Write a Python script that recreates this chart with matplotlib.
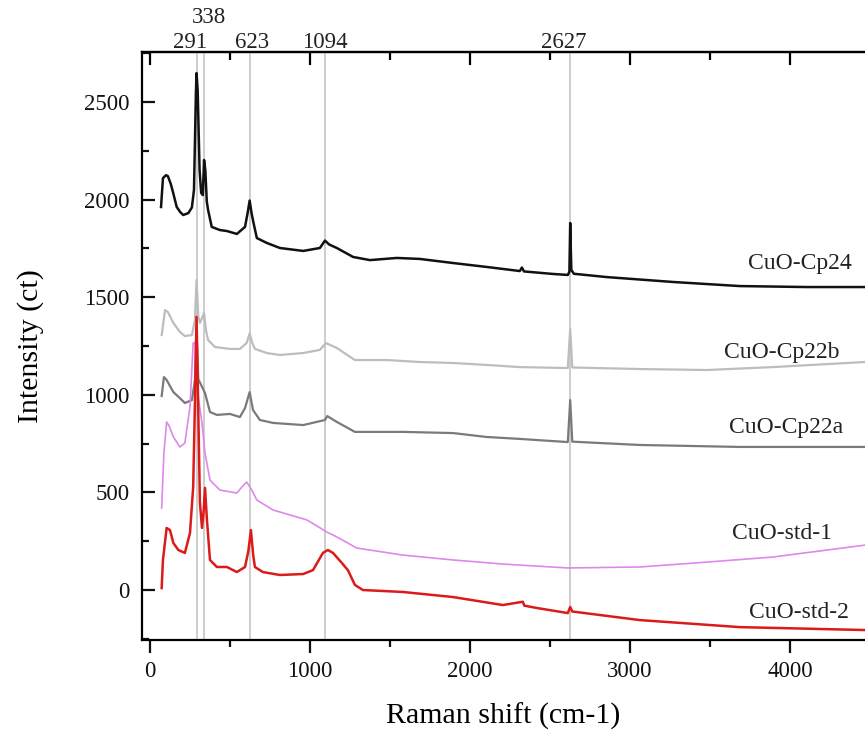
import matplotlib
matplotlib.use("Agg")
import matplotlib.pyplot as plt
from matplotlib.ticker import MultipleLocator

plt.rcParams['font.family'] = ['Liberation Serif', 'DejaVu Serif']

# ---------------- data ----------------
cp24_x = [69, 81, 100, 112, 130, 145, 167, 190, 208, 240, 262, 275, 287, 291, 298, 310, 320, 330, 338,
          346, 355, 363, 386, 437, 481, 543, 594, 610, 623, 635, 650, 668, 730, 812, 958, 1062, 1094,
          1120, 1168, 1270, 1375, 1543, 1687, 1895, 2104, 2312, 2325, 2338, 2520, 2612, 2622, 2627,
          2634, 2650, 2856, 3269, 3687, 4106, 4470]
cp24_y = [1962, 2110, 2125, 2120, 2080, 2034, 1962, 1935, 1921, 1931, 1960, 2050, 2546, 2648, 2560, 2150,
          2034, 2023, 2203, 2150, 1990, 1947, 1860, 1844, 1839, 1824, 1860, 1930, 1995, 1930, 1870, 1803,
          1778, 1752, 1737, 1752, 1790, 1770, 1752, 1706, 1690, 1701, 1696, 1675, 1655, 1634, 1652, 1632,
          1619, 1614, 1630, 1880, 1640, 1620, 1603, 1578, 1557, 1552, 1552]

cp22b_x = [73, 94, 112, 146, 187, 218, 262, 281, 291, 302, 312, 333, 338, 350, 363, 406, 500, 562, 604,
           623, 640, 656, 730, 812, 958, 1062, 1100, 1168, 1281, 1481, 1687, 1895, 2104, 2312, 2612,
           2627, 2640, 3062, 3481, 3894, 4470]
cp22b_y = [1306, 1434, 1424, 1368, 1322, 1301, 1306, 1383, 1588, 1400, 1368, 1409, 1419, 1330, 1281,
           1245, 1235, 1235, 1265, 1315, 1265, 1235, 1214, 1204, 1214, 1230, 1265, 1240, 1178, 1178,
           1168, 1163, 1153, 1142, 1137, 1337, 1140, 1132, 1127, 1142, 1168]

cp22a_x = [73, 87, 104, 146, 187, 218, 262, 281, 291, 302, 344, 375, 418, 500, 562, 594, 623, 644, 687,
           769, 958, 1094, 1108, 1168, 1281, 1581, 1895, 2104, 2312, 2612, 2627, 2640, 3062, 3687, 4470]
cp22a_y = [994, 1091, 1076, 1014, 983, 958, 973, 1076, 1330, 1080, 1009, 912, 897, 902, 886, 932, 1014,
           922, 871, 856, 845, 871, 891, 861, 810, 810, 804, 784, 774, 758, 973, 760, 743, 733, 733]

std1_x = [73, 87, 104, 120, 146, 187, 218, 250, 270, 281, 300, 325, 344, 375, 437, 543, 575, 604, 637,
          668, 769, 981, 1106, 1168, 1293, 1581, 1895, 2206, 2612, 3062, 3481, 3894, 4470]
std1_y = [420, 702, 861, 840, 784, 733, 753, 938, 1265, 1270, 1000, 855, 702, 563, 512, 497, 528, 553,
          512, 461, 410, 359, 297, 272, 215, 179, 154, 133, 113, 118, 143, 169, 230]

std2_x = [73, 81, 104, 125, 146, 177, 218, 250, 270, 282, 291, 300, 312, 325, 335, 344, 356, 375, 418,
          481, 543, 594, 615, 631, 645, 656, 706, 812, 958, 1019, 1081, 1112, 1144, 1200, 1237, 1281,
          1331, 1581, 1895, 2206, 2331, 2340, 2418, 2612, 2627, 2640, 3062, 3687, 4470]
std2_y = [10, 154, 318, 307, 241, 205, 190, 292, 528, 1000, 1399, 1000, 450, 318, 400, 523, 359, 154,
          118, 118, 92, 118, 200, 307, 180, 118, 92, 77, 82, 102, 190, 205, 190, 138, 102, 26, 0, -10,
          -36, -77, -60, -80, -92, -118, -87, -110, -154, -190, -205]

series_names = ['CuO-Cp24', 'CuO-Cp22b', 'CuO-Cp22a', 'CuO-std-1', 'CuO-std-2']
peak_positions = [291, 338, 623, 1094, 2627]
peak_labels = ['291', '338', '623', '1094', '2627']

# ---------------- figure ----------------
fig = plt.figure(figsize=(8.65, 7.33), dpi=100)
ax = fig.add_axes([142 / 865, 1 - 640 / 733, 1 - 142 / 865, (640 - 52) / 733])

for p in peak_positions:
    ax.axvline(p, color='#c0c0c0', lw=1.1, zorder=1)

series = [
    (cp24_x, cp24_y, '#111111', 1.8),
    (cp22b_x, cp22b_y, '#bdbdbd', 1.6),
    (cp22a_x, cp22a_y, '#7a7a7a', 1.6),
    (std1_x, std1_y, '#dd88ea', 1.2),
    (std2_x, std2_y, '#dd1a1a', 1.8),
]
for xs, ys, c, lw in series:
    ax.plot(xs, ys, color=c, lw=lw, zorder=3)

# series labels
label_xy = [(4060, 1675), (3950, 1219), (3975, 830), (3950, 287), (4055, -113)]
for name, (lx, ly) in zip(series_names, label_xy):
    ax.text(lx, ly, name, fontsize=17, ha='center', va='center', color='#222222')

# peak labels above the top axis
label_dx = [-42, 29, 18, 0, -38]
label_dy = [6.5, 24.5, 6.5, 6.5, 6.5]
for p, t, dx, dy in zip(peak_positions, peak_labels, label_dx, label_dy):
    ax.annotate(t, xy=(p + dx, 1.0), xycoords=('data', 'axes fraction'),
                xytext=(0, dy), textcoords='offset points',
                ha='center', va='center', fontsize=16.5, color='#222222',
                annotation_clip=False)

ax.set_xlim(-50, 4470)
ax.set_ylim(-256, 2756)

ax.xaxis.set_major_locator(MultipleLocator(1000))
ax.xaxis.set_minor_locator(MultipleLocator(500))
ax.yaxis.set_major_locator(MultipleLocator(500))
ax.yaxis.set_minor_locator(MultipleLocator(250))

ax.tick_params(axis='x', which='both', direction='out', top=False, labelsize=16.5, width=1.6,
               colors='#111111', pad=6)
ax.tick_params(axis='x', which='major', length=9)
ax.tick_params(axis='x', which='minor', length=5)
ax.tick_params(axis='y', which='both', direction='in', right=False, labelsize=16.5, width=1.6,
               colors='#111111', pad=9)
ax.tick_params(axis='y', which='major', length=9)
ax.tick_params(axis='y', which='minor', length=5)

# top inward ticks
sec = ax.secondary_xaxis('top')
sec.xaxis.set_major_locator(MultipleLocator(1000))
sec.xaxis.set_minor_locator(MultipleLocator(500))
sec.tick_params(which='both', direction='in', labeltop=False, width=1.6)
sec.tick_params(which='major', length=9)
sec.tick_params(which='minor', length=6)
sec.spines['top'].set_linewidth(1.6)

for s in ['left', 'bottom', 'top']:
    ax.spines[s].set_linewidth(1.6)
ax.spines['right'].set_visible(False)

ax.set_xlabel('Raman shift (cm-1)', fontsize=21.5, labelpad=15)
ax.set_ylabel('Intensity (ct)', fontsize=21.5, labelpad=29)

fig.savefig('out.png', dpi=100)
